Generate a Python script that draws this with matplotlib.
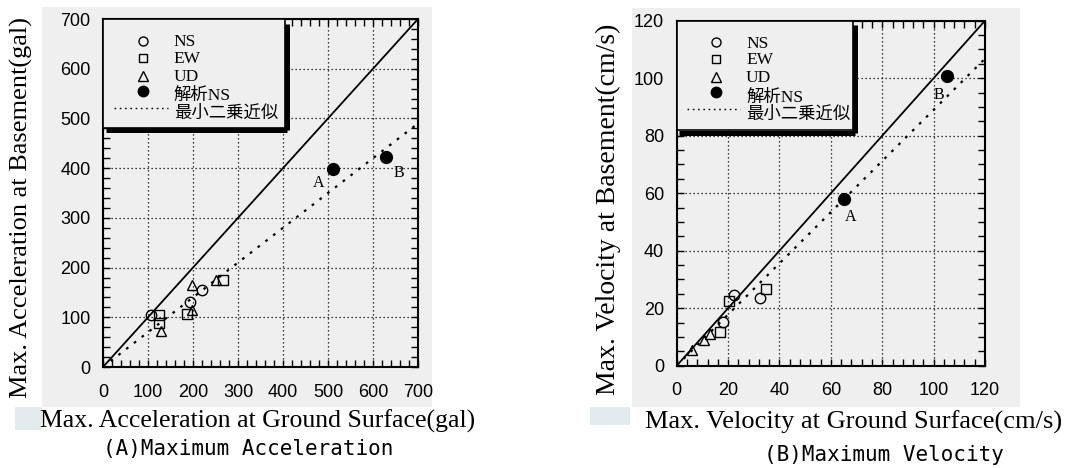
import matplotlib
matplotlib.use("Agg")
import matplotlib.pyplot as plt
from matplotlib.patches import Rectangle
from matplotlib.lines import Line2D
from matplotlib.transforms import offset_copy
import numpy as np

# ---- (A) maximum acceleration, gal ----
acc_ns_x = [107, 194, 219]
acc_ns_y = [104, 131, 155]
acc_ew_x = [125, 125, 186, 266]
acc_ew_y = [104, 88, 106, 176]
acc_ud_x = [129, 197, 197, 252]
acc_ud_y = [73, 114, 165, 174]
acc_sim_x = [512, 629]
acc_sim_y = [398, 423]
acc_sim_names = ["A", "B"]
acc_fit_slope = 0.70
acc_ticks = [0, 100, 200, 300, 400, 500, 600, 700]

# ---- (B) maximum velocity, cm/s ----
vel_ns_x = [17.9, 22.4, 32.4]
vel_ns_y = [15.3, 24.6, 23.7]
vel_ew_x = [16.7, 20.5, 34.7]
vel_ew_y = [11.8, 22.6, 26.6]
vel_ud_x = [6.1, 10.8, 12.9]
vel_ud_y = [5.4, 9.0, 11.0]
vel_sim_x = [65.2, 105.2]
vel_sim_y = [58.0, 100.9]
vel_sim_names = ["A", "B"]
vel_fit_slope = 0.89
vel_ticks = [0, 20, 40, 60, 80, 100, 120]

legend_labels = ["NS", "EW", "UD", "解析NS", "最小二乗近似"]

SCAN_GRAY = "#efefef"
SERIF = ["Liberation Serif", "Noto Sans CJK JP"]
SANS = "Liberation Sans"
MONO = "DejaVu Sans Mono"

fig = plt.figure(figsize=(10.7, 4.68), dpi=100)
fig.patch.set_facecolor("white")

W, H = 1070.0, 468.0


def fig_rect(x0, y0, x1, y1, color):
    fig.patches.append(Rectangle((x0 / W, 1 - y1 / H), (x1 - x0) / W, (y1 - y0) / H,
                                 transform=fig.transFigure, facecolor=color,
                                 edgecolor="none", zorder=-10))


# scanned page backgrounds
fig_rect(42, 7, 432, 407, SCAN_GRAY)
fig_rect(632, 8, 1020, 407, SCAN_GRAY)
fig_rect(15, 407, 42, 430, "#e2ebed")
fig_rect(590, 407, 630, 425, "#e2ebed")


def panel(rect_px, ticks, xminor, yminor, ns, ew, ud, sim, sim_names, name_off,
          slope, box_w, box_h):
    x0, y0, x1, y1 = rect_px
    ax = fig.add_axes([x0 / W, 1 - y1 / H, (x1 - x0) / W, (y1 - y0) / H])
    ax.set_facecolor("none")
    lim = ticks[-1]
    ax.set_xlim(0, lim)
    ax.set_ylim(0, lim)
    ax.set_xticks(ticks)
    ax.set_yticks(ticks)
    ax.set_xticks(np.arange(0, lim + 1e-9, xminor), minor=True)
    ax.set_yticks(np.arange(0, lim + 1e-9, yminor), minor=True)
    ax.tick_params(which="both", direction="in", top=True, right=True,
                   length=5, width=1.0, color="black")
    ax.tick_params(axis="x", which="major", labelsize=13, pad=12)
    ax.tick_params(axis="y", which="major", labelsize=13, pad=9)
    for lab in ax.get_xticklabels() + ax.get_yticklabels():
        lab.set_fontfamily(SANS)
    for sp in ax.spines.values():
        sp.set_linewidth(1.5)
        sp.set_color("black")
    ax.set_axisbelow(True)
    ax.grid(True, which="major", color="black", linestyle=(0, (1, 2.2)), linewidth=0.9)

    # 1:1 line and least-squares line
    ax.plot([0, lim], [0, lim], color="black", linewidth=1.3, zorder=3)
    ax.plot([0, lim], [0, slope * lim], color="black", linewidth=1.6,
            linestyle=(0, (1.2, 3.2)), zorder=3)

    mk = dict(markersize=7.5, markerfacecolor="none", markeredgecolor="black",
              markeredgewidth=1.0, linestyle="none", zorder=4)
    ax.plot(ns[0], ns[1], marker="o", **mk)
    ax.plot(ew[0], ew[1], marker="s", **mk)
    ax.plot(ud[0], ud[1], marker="^", **mk)
    ax.plot(sim[0], sim[1], marker="o", markersize=8.5, color="black",
            linestyle="none", zorder=5)
    for sx, sy, nm, (dx, dy) in zip(sim[0], sim[1], sim_names, name_off):
        ax.text(sx + dx, sy + dy, nm, fontsize=11.5, family=SERIF,
                ha="center", va="center", zorder=5)

    # legend box with heavy drop edge
    bx0, by0 = 0.0, 1.0 - box_h
    ax.add_patch(Rectangle((bx0, by0), box_w, box_h, transform=ax.transAxes,
                           facecolor=SCAN_GRAY, edgecolor="black", linewidth=1.2,
                           zorder=6, clip_on=False))
    tr = offset_copy(ax.transAxes, fig=fig, x=2.5, y=-2.5, units="dots")
    ax.add_line(Line2D([bx0, box_w], [by0, by0], transform=tr, color="black",
                       linewidth=3.6, solid_capstyle="butt", zorder=6, clip_on=False))
    ax.add_line(Line2D([box_w, box_w], [by0, 1.0 - 0.006], transform=tr, color="black",
                       linewidth=3.6, solid_capstyle="butt", zorder=6, clip_on=False))

    rows = [0.937, 0.889, 0.837, 0.792, 0.743]
    mx, tx = 0.127, 0.225
    lk = dict(markersize=6.5, markerfacecolor="none", markeredgecolor="black",
              markeredgewidth=1.0, linestyle="none", transform=ax.transAxes,
              zorder=7, clip_on=False)
    ax.plot([mx], [rows[0]], marker="o", **lk)
    ax.plot([mx], [rows[1]], marker="s", markersize=6.0,
            **{k: v for k, v in lk.items() if k != "markersize"})
    ax.plot([mx], [rows[2]], marker="^", **lk)
    ax.plot([mx], [rows[3]], marker="o", markersize=7.5, color="black",
            linestyle="none", transform=ax.transAxes, zorder=7)
    ax.plot([0.035, 0.205], [rows[4], rows[4]], color="black", linewidth=1.0,
            linestyle=(0, (1.2, 2.6)), transform=ax.transAxes, zorder=7)
    px = 1.0 / (y1 - y0)
    for r, lab in zip(rows, legend_labels):
        shift = 5.5 * px
        if not lab.isascii():
            shift += 3.5 * px
        ax.text(tx, r - shift, lab, transform=ax.transAxes, fontsize=12.5,
                family=SERIF, ha="left", va="baseline", zorder=7)
    return ax


panel((103, 19, 418, 367), acc_ticks, 20, 20,
      (acc_ns_x, acc_ns_y), (acc_ew_x, acc_ew_y), (acc_ud_x, acc_ud_y),
      (acc_sim_x, acc_sim_y), acc_sim_names, [(-32, -28), (28, -33)],
      acc_fit_slope, 0.577, 0.313)

panel((676.7, 20.7, 985, 365.7), vel_ticks, 4, 5,
      (vel_ns_x, vel_ns_y), (vel_ew_x, vel_ew_y), (vel_ud_x, vel_ud_y),
      (vel_sim_x, vel_sim_y), vel_sim_names, [(2.6, -6.2), (-3.2, -6.7)],
      vel_fit_slope, 0.571, 0.317)

# axis titles and captions
fig.text(258 / W, 1 - 421 / H, "Max. Acceleration at Ground Surface(gal)",
         family=SERIF, fontsize=18.5, ha="center", va="center")
fig.text(21 / W, 1 - 207 / H, "Max. Acceleration at Basement(gal)",
         family=SERIF, fontsize=19, ha="center", va="center", rotation=90)
fig.text(854 / W, 1 - 422 / H, "Max. Velocity at Ground Surface(cm/s)",
         family=SERIF, fontsize=19, ha="center", va="center")
fig.text(608 / W, 1 - 209 / H, "Max. Velocity at Basement(cm/s)",
         family=SERIF, fontsize=20, ha="center", va="center", rotation=90)
fig.text(248.5 / W, 1 - 449 / H, "(A)Maximum Acceleration",
         family=MONO, fontsize=15, ha="center", va="center")
fig.text(884 / W, 1 - 455 / H, "(B)Maximum Velocity",
         family=MONO, fontsize=15, ha="center", va="center")

fig.savefig("out.png", dpi=100, facecolor="white")
